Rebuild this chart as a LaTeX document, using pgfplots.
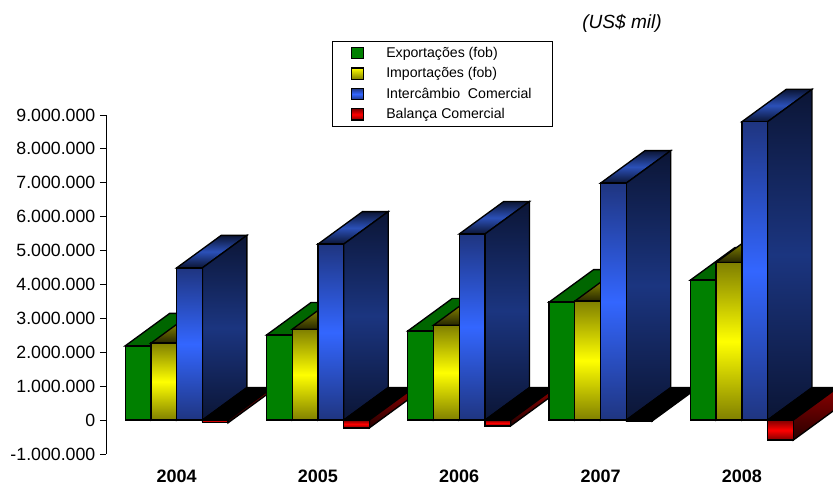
\documentclass[border=0pt]{standalone}
\usepackage{fontspec}
\setmainfont{Liberation Sans}
\usepackage{pgfplots}
\usepackage{pgfplotstable}
\pgfplotsset{compat=1.18}

\pgfplotstableread{
year exp imp tot bal
2004 2190000 2270000 4490000 -80000
2005 2510000 2680000 5190000 -230000
2006 2630000 2800000 5490000 -170000
2007 3480000 3510000 6990000 -30000
2008 4130000 4650000 8800000 -590000
}\tradedata

\definecolor{blue1}{RGB}{31,53,128}
\definecolor{blue2}{RGB}{51,102,255}
\definecolor{blue3}{RGB}{27,53,128}
\definecolor{blue4}{RGB}{11,21,53}
\definecolor{blue5}{RGB}{43,80,184}

% front, top and side faces of the four series
% (middle color has to come after top and bottom color)
\tikzset{
  bar/.style={draw=black, line width=1pt, line join=miter, mark=none},
  expfront/.style={fill=green!50!black},
  exptop/.style={fill=green!40!black},
  expside/.style={fill=green!30!black},
  impfront/.style={top color=yellow!50!black, bottom color=yellow!50!black, middle color=yellow},
  imptop/.style={top color=yellow!75!black, bottom color=yellow!15!black},
  impside/.style={fill=yellow!30!black},
  totfront/.style={top color=blue1, bottom color=blue1, middle color=blue2},
  tottop/.style={top color=blue4, bottom color=blue4, middle color=blue5},
  totside/.style={top color=blue4, bottom color=blue4, middle color=blue3},
  balfront/.style={top color=red!50!black, bottom color=red!50!black, middle color=red},
  baltop/.style={fill=black},
  balside/.style={top color=red!55!black, bottom color=red!15!black},
}

\newcommand{\bw}{0.182}
\newcommand{\dx}{0.315}
\newcommand{\dy}{958700}

% #1 left edge, #2 value, #3 series
\newcommand{\drawbar}[3]{%
  \pgfmathsetmacro{\xa}{#1}%
  \pgfmathsetmacro{\xb}{#1+\bw}%
  \pgfmathsetmacro{\xc}{#1+\dx}%
  \pgfmathsetmacro{\xd}{#1+\bw+\dx}%
  \edef\yv{#2}%
  \edef\ytop{\ifnum\yv<0 0\else\yv\fi}%
  \edef\ytopb{\the\numexpr\ytop+\dy\relax}%
  \edef\yvb{\the\numexpr\yv+\dy\relax}%
  \addplot[forget plot, bar, #3top] coordinates {(\xa,\ytop) (\xb,\ytop) (\xd,\ytopb) (\xc,\ytopb)} --cycle;
  \addplot[forget plot, bar, #3side] coordinates {(\xb,0) (\xb,\yv) (\xd,\yvb) (\xd,\dy)} --cycle;
  \addplot[forget plot, bar, #3front] coordinates {(\xa,0) (\xb,0) (\xb,\yv) (\xa,\yv)} --cycle;
}

% #1 table row
\newcommand{\drawgroup}[1]{%
  \pgfmathsetmacro{\gx}{#1+0.5-2*\bw}%
  \pgfplotstablegetelem{#1}{exp}\of\tradedata\edef\vexp{\pgfplotsretval}%
  \pgfplotstablegetelem{#1}{imp}\of\tradedata\edef\vimp{\pgfplotsretval}%
  \pgfplotstablegetelem{#1}{tot}\of\tradedata\edef\vtot{\pgfplotsretval}%
  \pgfplotstablegetelem{#1}{bal}\of\tradedata\edef\vbal{\pgfplotsretval}%
  \edef\ga{\gx}%
  \pgfmathsetmacro{\gb}{\ga+\bw}%
  \pgfmathsetmacro{\gc}{\ga+2*\bw}%
  \pgfmathsetmacro{\gd}{\ga+3*\bw}%
  \drawbar{\ga}{\vexp}{exp}%
  \drawbar{\gb}{\vimp}{imp}%
  \drawbar{\gc}{\vtot}{tot}%
  \drawbar{\gd}{\vbal}{bal}%
}

\newcommand{\swatch}[1]{\addlegendimage{legend image code/.code={%
  \path (0pt,0pt) (24pt,0pt);
  \draw[black, line width=0.9pt, #1] (0pt,-4.2pt) rectangle (9pt,4.2pt);}}}

\begin{document}
\begin{tikzpicture}
\path[use as bounding box] (-79.5pt,-21.75pt) rectangle (545.25pt,340.5pt);
\begin{axis}[
    at={(0,0)}, anchor=south west,
    scale only axis,
    width=529.875pt,
    height=254.25pt,
    xmin=0, xmax=5,
    ymin=-1000000, ymax=9000000,
    clip=false,
    axis y line=left,
    axis x line=bottom,
    x axis line style={draw=none},
    y axis line style={-, line width=0.7pt},
    xtick={0.5,1.5,2.5,3.5,4.5},
    xticklabels={2004,2005,2006,2007,2008},
    x tick style={draw=none},
    xticklabel style={font=\fontsize{13.5}{16}\selectfont\bfseries, inner ysep=0pt, yshift=-7pt},
    ytick={-1000000,0,1000000,2000000,3000000,4000000,5000000,6000000,7000000,8000000,9000000},
    scaled y ticks=false,
    y tick style={black, line width=0.7pt},
    tick align=outside,
    major tick length=4.5pt,
    yticklabel style={font=\fontsize{13.3}{16}\selectfont, /pgf/number format/.cd, fixed, 1000 sep={.}, min exponent for 1000 sep=0, assume math mode=true},
    legend cell align=left,
    legend style={
      at={(0.32,1.218)}, anchor=north west,
      draw=black, line width=0.7pt,
      font=\fontsize{10.6}{12}\selectfont,
      inner xsep=13.5pt, inner ysep=2.2pt,
      row sep=2.1pt,
    },
  ]
  \drawgroup{0}
  \drawgroup{1}
  \drawgroup{2}
  \drawgroup{3}
  \drawgroup{4}
  \swatch{fill=green!50!black}
  \addlegendentry{Exportações (fob)}
  \swatch{top color=yellow, bottom color=yellow!50!black}
  \addlegendentry{Importações (fob)}
  \swatch{top color=blue1, bottom color=blue1, middle color=blue2}
  \addlegendentry{Intercâmbio~~Comercial}
  \swatch{top color=red!50!black, bottom color=red!50!black, middle color=red}
  \addlegendentry{Balança Comercial}
  \node[font=\fontsize{14.3}{17}\selectfont\itshape] at (axis cs:3.652,11710000) {(US\$ mil)};
\end{axis}
\end{tikzpicture}
\end{document}
